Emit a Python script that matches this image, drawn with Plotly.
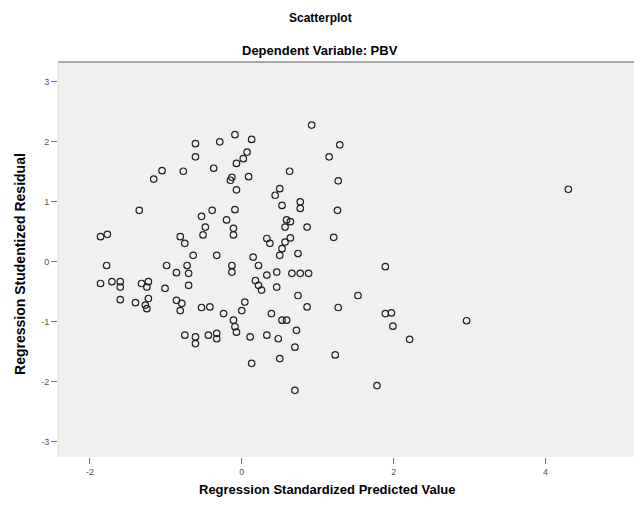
import plotly.graph_objects as go

# Regression standardized predicted value (x) and studentized residual (y)
pred_value = [
    0.92, -0.09, 0.13, 1.29, 1.15, -0.61, -0.29, -0.61, -0.37, -1.05,
    -1.16, -0.77, -0.15, -0.07, -0.07, 0.07, 0.02, 0.63, 0.09, -0.13,
    1.27, 0.50, 0.44, 0.53, 0.77, 0.77, -0.09, 1.26, 0.59, 0.64,
    0.57, 0.86, -0.20, -0.11, -0.11, 1.21, 0.33, 0.37, 0.64, 0.57,
    0.53, 0.50, 0.74, 0.15, -1.35, -0.39, -0.53, -0.48, -0.51, -0.81,
    -0.75, -1.86, -1.77, -0.64, -0.33, -1.78, -0.99, -0.72, -0.70, -0.86,
    -0.13, -0.13, -1.86, -1.71, -1.60, -1.60, -1.32, -1.23, -1.25, -1.01,
    -0.70, -1.60, -1.40, -1.27, -1.23, -1.25, -0.86, -0.79, -0.81, -0.53,
    -0.42, -0.24, -0.11, -0.09, -0.07, -0.75, -0.61, -0.61, -0.44, -0.33,
    -0.33, 0.22, 0.46, 0.66, 0.77, 0.88, 0.33, 1.89, 0.18, 0.22,
    0.26, 0.46, 0.74, 1.53, 0.86, 1.27, 1.89, 1.97, 1.99, 2.21,
    2.96, 4.30, 0.04, 0.00, 0.39, 0.53, 0.59, 0.11, 0.33, 0.48,
    0.72, 0.70, 1.23, 0.50, 0.13, 0.70, 1.78,
]
residual = [
    2.28, 2.12, 2.04, 1.95, 1.75, 1.97, 2.00, 1.75, 1.56, 1.52,
    1.38, 1.51, 1.36, 1.20, 1.64, 1.83, 1.72, 1.51, 1.42, 1.41,
    1.35, 1.22, 1.11, 0.94, 1.00, 0.89, 0.87, 0.86, 0.70, 0.67,
    0.58, 0.58, 0.70, 0.56, 0.45, 0.41, 0.39, 0.31, 0.40, 0.33,
    0.22, 0.11, 0.14, 0.08, 0.86, 0.86, 0.76, 0.58, 0.45, 0.42,
    0.31, 0.42, 0.46, 0.11, 0.11, -0.06, -0.06, -0.06, -0.19, -0.18,
    -0.06, -0.17, -0.36, -0.33, -0.33, -0.42, -0.36, -0.33, -0.42, -0.44,
    -0.39, -0.63, -0.68, -0.72, -0.61, -0.78, -0.64, -0.69, -0.81, -0.76,
    -0.75, -0.86, -0.97, -1.08, -1.17, -1.22, -1.25, -1.36, -1.22, -1.19,
    -1.28, -0.06, -0.17, -0.19, -0.19, -0.19, -0.22, -0.08, -0.31, -0.39,
    -0.47, -0.42, -0.56, -0.56, -0.75, -0.76, -0.86, -0.85, -1.07, -1.29,
    -0.98, 1.21, -0.67, -0.81, -0.86, -0.97, -0.97, -1.25, -1.22, -1.28,
    -1.14, -1.42, -1.55, -1.61, -1.69, -2.14, -2.06,
]

x_ticks = [-2, 0, 2, 4]
y_ticks = [-3, -2, -1, 0, 1, 2, 3]

title_main = "Scatterplot"
title_sub = "Dependent Variable: PBV"
x_title = "Regression Standardized Predicted Value"
y_title = "Regression Studentized Residual"

font_family = "Liberation Sans, Arial, sans-serif"

fig = go.Figure()
fig.add_trace(go.Scatter(
    x=pred_value, y=residual, mode="markers",
    marker=dict(symbol="circle-open", size=6.5, color="#222",
                line=dict(width=1.2, color="#222")),
    hoverinfo="x+y", showlegend=False,
))

# the page body has an 8px margin, so the figure is 8px smaller than the window
fig.update_layout(
    width=634, height=501,
    margin=dict(l=50, r=0, t=54, b=52),
    paper_bgcolor="white",
    plot_bgcolor="#f0f0f0",
    font=dict(family=font_family, color="#000"),
    xaxis=dict(range=[-2.42, 5.27], tickvals=x_ticks,
               ticktext=[str(v) for v in x_ticks],
               showgrid=False, zeroline=False, ticks="outside",
               ticklen=6, tickcolor="#777", tickwidth=1,
               tickfont=dict(size=9, color="#555"), showline=False),
    yaxis=dict(range=[-3.25, 3.33], tickvals=y_ticks,
               ticktext=[str(v) for v in y_ticks],
               showgrid=False, zeroline=False, ticks="outside",
               ticklen=6, tickcolor="#777", tickwidth=1,
               tickfont=dict(size=9, color="#555"), showline=False),
    shapes=[
        dict(type="line", xref="paper", yref="paper", x0=0, x1=1, y0=1, y1=1,
             line=dict(color="#a8a8a8", width=2)),
        dict(type="line", xref="paper", yref="paper", x0=0, x1=0, y0=0, y1=1,
             line=dict(color="#d8d8d8", width=1)),
    ],
    annotations=[
        dict(text="<b>%s</b>" % title_main, xref="paper", yref="paper",
             x=0.449, y=1.111, xanchor="center", yanchor="middle",
             showarrow=False, font=dict(size=12)),
        dict(text="<b>%s</b>" % title_sub, xref="paper", yref="paper",
             x=0.449, y=1.028, xanchor="center", yanchor="middle",
             showarrow=False, font=dict(size=13)),
        dict(text="<b>%s</b>" % x_title, xref="paper", yref="paper",
             x=0.46, y=-0.0835, xanchor="center", yanchor="middle",
             showarrow=False, font=dict(size=13)),
        dict(text="<b>%s</b>" % y_title, xref="paper", yref="paper",
             x=-0.065, y=0.489, xanchor="center", yanchor="middle",
             textangle=-90, showarrow=False, font=dict(size=14)),
    ],
)

fig.write_html("out.html")
